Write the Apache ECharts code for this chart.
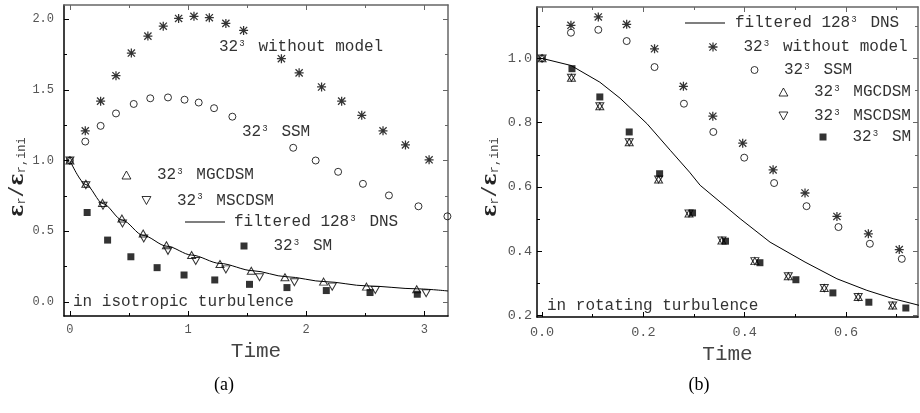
<!DOCTYPE html>
<html><head><meta charset="utf-8">
<script src="https://cdn.jsdelivr.net/npm/echarts@6/dist/echarts.min.js"></script>
<style>html,body{margin:0;padding:0;background:#fff}#c{width:920px;height:413px}</style>
</head><body><div id="c"></div>
<script>
// ---------- (a) isotropic turbulence ----------
const isoTimeNoModel = [0.13, 0.26, 0.39, 0.52, 0.66, 0.79, 0.92, 1.05, 1.18, 1.32, 1.47, 1.79, 1.94, 2.13, 2.30, 2.47, 2.65, 2.84, 3.04];
const isoNoModel     = [1.21, 1.42, 1.60, 1.76, 1.88, 1.95, 2.005, 2.02, 2.01, 1.97, 1.92, 1.72, 1.62, 1.52, 1.42, 1.32, 1.21, 1.11, 1.005];
const isoTimeSSM = [0, 0.13, 0.26, 0.39, 0.54, 0.68, 0.83, 0.97, 1.09, 1.22, 1.375, 1.89, 2.08, 2.27, 2.48, 2.70, 2.95, 3.195];
const isoSSM     = [1.0, 1.134, 1.245, 1.333, 1.40, 1.44, 1.446, 1.43, 1.41, 1.37, 1.31, 1.09, 1.00, 0.92, 0.835, 0.753, 0.676, 0.605];
const isoTimeMG = [0, 0.135, 0.276, 0.44, 0.62, 0.817, 1.03, 1.27, 1.535, 1.82, 2.147, 2.51, 2.935];
const isoMG     = [1.0, 0.835, 0.70, 0.59, 0.484, 0.40, 0.331, 0.268, 0.22, 0.174, 0.143, 0.108, 0.089];
const isoTimeMS = [0, 0.135, 0.28, 0.445, 0.625, 0.83, 1.065, 1.32, 1.605, 1.90, 2.22, 2.585, 3.015];
const isoMS     = [1.0, 0.825, 0.68, 0.555, 0.449, 0.361, 0.289, 0.23, 0.174, 0.139, 0.108, 0.085, 0.061];
const isoTimeSM = [0.146, 0.319, 0.516, 0.738, 0.966, 1.226, 1.52, 1.837, 2.17, 2.54, 2.94];
const isoSM     = [0.632, 0.437, 0.319, 0.242, 0.19, 0.155, 0.124, 0.101, 0.080, 0.066, 0.054];
const isoTimeDNS = [0, 0.135, 0.28, 0.445, 0.62, 0.82, 1.03, 1.27, 1.55, 1.83, 2.16, 2.51, 2.94, 3.2];
const isoDNS     = [1.0, 0.83, 0.695, 0.577, 0.47, 0.394, 0.331, 0.272, 0.22, 0.178, 0.143, 0.113, 0.092, 0.077];

// ---------- (b) rotating turbulence ----------
const rotTimeNoModel = [0.057, 0.111, 0.167, 0.222, 0.279, 0.337, 0.396, 0.456, 0.519, 0.582, 0.644, 0.705];
const rotNoModel     = [1.103, 1.129, 1.106, 1.030, 0.913, 0.820, 0.736, 0.653, 0.581, 0.508, 0.454, 0.405];
const rotTimeSSM = [0, 0.057, 0.111, 0.167, 0.222, 0.280, 0.338, 0.399, 0.458, 0.522, 0.585, 0.647, 0.71];
const rotSSM     = [1.0, 1.08, 1.089, 1.054, 0.973, 0.859, 0.771, 0.691, 0.612, 0.540, 0.475, 0.423, 0.376];
const rotTimeMG = [0, 0.058, 0.114, 0.172, 0.23, 0.29, 0.355, 0.42, 0.486, 0.557, 0.624, 0.692];
const rotMG     = [1.0, 0.94, 0.851, 0.739, 0.623, 0.517, 0.433, 0.369, 0.322, 0.285, 0.257, 0.231];
const rotTimeMS = [0, 0.058, 0.114, 0.172, 0.23, 0.29, 0.355, 0.42, 0.486, 0.557, 0.624, 0.692];
const rotMS     = [1.0, 0.94, 0.851, 0.739, 0.623, 0.517, 0.433, 0.369, 0.322, 0.285, 0.257, 0.231];
const rotTimeSM = [0.059, 0.114, 0.172, 0.232, 0.297, 0.362, 0.43, 0.501, 0.574, 0.645, 0.718];
const rotSM     = [0.968, 0.880, 0.771, 0.641, 0.519, 0.431, 0.364, 0.311, 0.27, 0.241, 0.223];
const rotTimeDNS = [0, 0.057, 0.114, 0.154, 0.207, 0.253, 0.291, 0.312, 0.391, 0.45, 0.519, 0.582, 0.641, 0.693, 0.745];
const rotDNS     = [1.0, 0.978, 0.926, 0.876, 0.797, 0.714, 0.646, 0.605, 0.501, 0.428, 0.366, 0.314, 0.278, 0.252, 0.231];

// ---------- tick labels ----------
const isoXTicks = [0, 1, 2, 3];
const isoXMinor = [0.5, 1.5, 2.5];
const isoYTicks = [0.0, 0.5, 1.0, 1.5, 2.0];
const isoYMinor = [0.25, 0.75, 1.25, 1.75];
const rotXTicks = [0.0, 0.2, 0.4, 0.6];
const rotXMinor = [0.1, 0.3, 0.5, 0.7];
const rotYTicks = [0.2, 0.4, 0.6, 0.8, 1.0];
const rotYMinor = [0.3, 0.5, 0.7, 0.9, 1.1];

const N_NOMODEL = '32³ without model', N_SSM = '32³ SSM', N_MG = '32³ MGCDSM',
      N_MS = '32³ MSCDSM', N_SM = '32³ SM', N_DNS = 'filtered 128³ DNS';

const MONO = 'Liberation Mono';
const ASTER = 'path://M4.3,0 h1.4 v10 h-1.4 z M0,4.3 h10 v1.4 h-10 z M0.5,1.5 L1.5,0.5 L9.5,8.5 L8.5,9.5 z M8.5,0.5 L9.5,1.5 L1.5,9.5 L0.5,8.5 z';
const TRI_UP = 'path://M5,0 L10,9 L0,9 Z';
const TRI_DN = 'path://M0,0 L10,0 L5,9 Z';

const zip = (xs, ys) => xs.map((x, i) => [x, ys[i]]);
const supify = s => s.replace('³', '{sup|3}');

function axis(grid, pos, min, max, ticks, len, showLine, color, labelFmt, labelSize, labelMargin) {
  return {
    type: 'value', gridIndex: grid, position: pos, min: min, max: max,
    axisLine: { show: showLine, onZero: false, lineStyle: { color: color, width: 1.5 } },
    axisTick: { show: true, inside: true, length: len, customValues: ticks, lineStyle: { color: color, width: 1 } },
    axisLabel: labelFmt ? { show: true, customValues: ticks, formatter: labelFmt, fontFamily: MONO,
      fontSize: labelSize, color: '#555', margin: labelMargin } : { show: false },
    splitLine: { show: false }, minorTick: { show: false }
  };
}

const f1 = v => v.toFixed(1);
const f0 = v => String(Math.round(v));

const xAxes = [
  Object.assign(axis(0, 'bottom', -0.05, 3.2, isoXTicks, 5, true, '#000', f0, 12, 8),
    { name: 'Time', nameLocation: 'middle', nameGap: 21, nameTextStyle: { fontFamily: MONO, fontSize: 21, color: '#444' } }),
  axis(0, 'bottom', -0.05, 3.2, isoXMinor, 3, false, '#000'),
  axis(0, 'top', -0.05, 3.2, isoXTicks, 5, true, '#666'),
  axis(0, 'top', -0.05, 3.2, isoXMinor, 3, false, '#666'),
  Object.assign(axis(1, 'bottom', -0.01, 0.742, rotXTicks, 5, true, '#000', f1, 13.5, 8),
    { name: 'Time', nameLocation: 'middle', nameGap: 21, nameTextStyle: { fontFamily: MONO, fontSize: 21, color: '#444' } }),
  axis(1, 'bottom', -0.01, 0.742, rotXMinor, 3, false, '#000'),
  axis(1, 'top', -0.01, 0.742, rotXTicks, 5, true, '#666'),
  axis(1, 'top', -0.01, 0.742, rotXMinor, 3, false, '#666')
];
const yAxes = [
  axis(0, 'left', -0.1, 2.1, isoYTicks, 5, true, '#000', f1, 12, 10),
  axis(0, 'left', -0.1, 2.1, isoYMinor, 3, false, '#000'),
  axis(0, 'right', -0.1, 2.1, isoYTicks, 5, true, '#666'),
  axis(0, 'right', -0.1, 2.1, isoYMinor, 3, false, '#666'),
  axis(1, 'left', 0.195, 1.16, rotYTicks, 5, true, '#000', f1, 13.5, 5),
  axis(1, 'left', 0.195, 1.16, rotYMinor, 3, false, '#000'),
  axis(1, 'right', 0.195, 1.16, rotYTicks, 5, true, '#666'),
  axis(1, 'right', 0.195, 1.16, rotYMinor, 3, false, '#666')
];

function scat(name, ax, data, symbol, size, filled) {
  return {
    type: 'scatter', name: name, xAxisIndex: ax, yAxisIndex: ax, data: data,
    symbol: symbol, symbolSize: size,
    itemStyle: filled ? { color: '#000', borderWidth: 0 } : { color: 'rgba(0,0,0,0)', borderColor: '#000', borderWidth: 1 },
    emphasis: { disabled: true }, z: 3
  };
}
function dns(ax, data) {
  return {
    type: 'line', name: N_DNS, xAxisIndex: ax, yAxisIndex: ax, data: data, symbol: 'none',
    color: '#000', lineStyle: { color: '#000', width: 1 }, smooth: ax === 0 ? 0.3 : false,
    smoothMonotone: 'x', emphasis: { disabled: true }, z: 2
  };
}

const series = [
  scat(N_NOMODEL, 0, zip(isoTimeNoModel, isoNoModel), ASTER, 9, true),
  scat(N_SSM, 0, zip(isoTimeSSM, isoSSM), 'circle', 7, false),
  scat(N_MG, 0, zip(isoTimeMG, isoMG), TRI_UP, [8, 7], false),
  scat(N_MS, 0, zip(isoTimeMS, isoMS), TRI_DN, [8, 7], false),
  scat(N_SM, 0, zip(isoTimeSM, isoSM), 'rect', 7, true),
  dns(0, zip(isoTimeDNS, isoDNS)),
  scat(N_NOMODEL, 4, zip(rotTimeNoModel, rotNoModel), ASTER, 9, true),
  scat(N_SSM, 4, zip(rotTimeSSM, rotSSM), 'circle', 7, false),
  scat(N_MG, 4, zip(rotTimeMG, rotMG), TRI_UP, [8, 7], false),
  scat(N_MS, 4, zip(rotTimeMS, rotMS), TRI_DN, [8, 7], false),
  scat(N_SM, 4, zip(rotTimeSM, rotSM), 'rect', 7, true),
  dns(4, zip(rotTimeDNS, rotDNS))
];

const legendRich = gap => ({
  g: { width: gap, fontSize: 16, fontFamily: MONO, lineHeight: 16 },
  sup: { fontSize: 9, lineHeight: 9, verticalAlign: 'top', width: 9.6, fontFamily: MONO, color: '#333', padding: [0, 0, 0, 1] }
});
function legend(name, left, yc, w, h, gap, extra) {
  return Object.assign({
    data: [name], left: left, top: yc - 8, orient: 'horizontal', padding: 0,
    itemWidth: w, itemHeight: h, selectedMode: false,
    itemStyle: { borderWidth: 1 },
    formatter: n => '{g| }' + supify(n),
    textStyle: { fontFamily: MONO, fontSize: 16, lineHeight: 16, color: '#333', rich: legendRich(gap) }
  }, extra || {});
}
const lineIcon = { data: [{ name: N_DNS, icon: 'rect' }], itemStyle: { color: '#000', borderWidth: 0 } };
const legends = [
  legend(N_MG, 121.5, 175, 9, 8, 21),
  legend(N_MS, 141.5, 200.5, 9, 8, 21),
  legend(N_DNS, 185, 222, 40, 1, 4, lineIcon),
  legend(N_SM, 240.5, 246, 7, 7, 21),
  legend(N_DNS, 685, 23, 40, 1, 5, lineIcon),
  legend(N_NOMODEL, 708.5, 47, 9, 9, 21, { itemStyle: { borderWidth: 0 } }),
  legend(N_SSM, 750.5, 70, 7, 7, 21),
  legend(N_MG, 778.5, 92, 9, 8, 21),
  legend(N_MS, 778.5, 116, 9, 8, 21),
  legend(N_SM, 819.5, 137, 7, 7, 21)
];

const yRich = {
  e: { fontFamily: 'DejaVu Serif', fontSize: 20, fontWeight: 'bold', lineHeight: 20, verticalAlign: 'top', padding: [0, 0, 10, 0], fill: '#222' },
  s: { fontFamily: MONO, fontSize: 12, lineHeight: 12, verticalAlign: 'bottom', fill: '#444' },
  sl: { fontFamily: MONO, fontSize: 20, lineHeight: 20, verticalAlign: 'middle', fill: '#333' }
};
const yLabelText = '{e|ε}{s|r}{sl|/}{e|ε}{s|r,ini}';
const noteRich = { sup: { fontSize: 9, lineHeight: 9, verticalAlign: 'top', width: 9.6, fontFamily: MONO, fill: '#333', padding: [0, 0, 0, 1] } };
function note(text, x, y) {
  return { type: 'text', x: x, y: y, style: { text: supify(text), rich: noteRich, fontFamily: MONO, fontSize: 16, lineHeight: 16, fill: '#333', align: 'left', verticalAlign: 'middle' } };
}

const graphic = [
  { type: 'text', x: 18, y: 177, rotation: Math.PI / 2, style: { text: yLabelText, rich: yRich, align: 'center', verticalAlign: 'middle' } },
  { type: 'text', x: 491, y: 177, rotation: Math.PI / 2, style: { text: yLabelText, rich: yRich, align: 'center', verticalAlign: 'middle' } },
  note(N_NOMODEL, 219, 47),
  note(N_SSM, 242, 132),
  note('in isotropic turbulence', 73, 302),
  note('in rotating turbulence', 547, 305.5),
  { type: 'text', x: 224, y: 385, style: { text: '(a)', fontFamily: 'Liberation Serif', fontSize: 18, fill: '#000', align: 'center', verticalAlign: 'middle' } },
  { type: 'text', x: 699, y: 385, style: { text: '(b)', fontFamily: 'Liberation Serif', fontSize: 18, fill: '#000', align: 'center', verticalAlign: 'middle' } }
];

const chart = echarts.init(document.getElementById('c'), null, { renderer: 'canvas' });
chart.setOption({
  animation: false,
  backgroundColor: '#fff',
  grid: [
    { left: 64, top: 5, width: 384, height: 311, containLabel: false },
    { left: 537, top: 7, width: 381, height: 310, containLabel: false }
  ],
  xAxis: xAxes, yAxis: yAxes, series: series, legend: legends, graphic: graphic,
  tooltip: { show: false }
});
</script></body></html>
